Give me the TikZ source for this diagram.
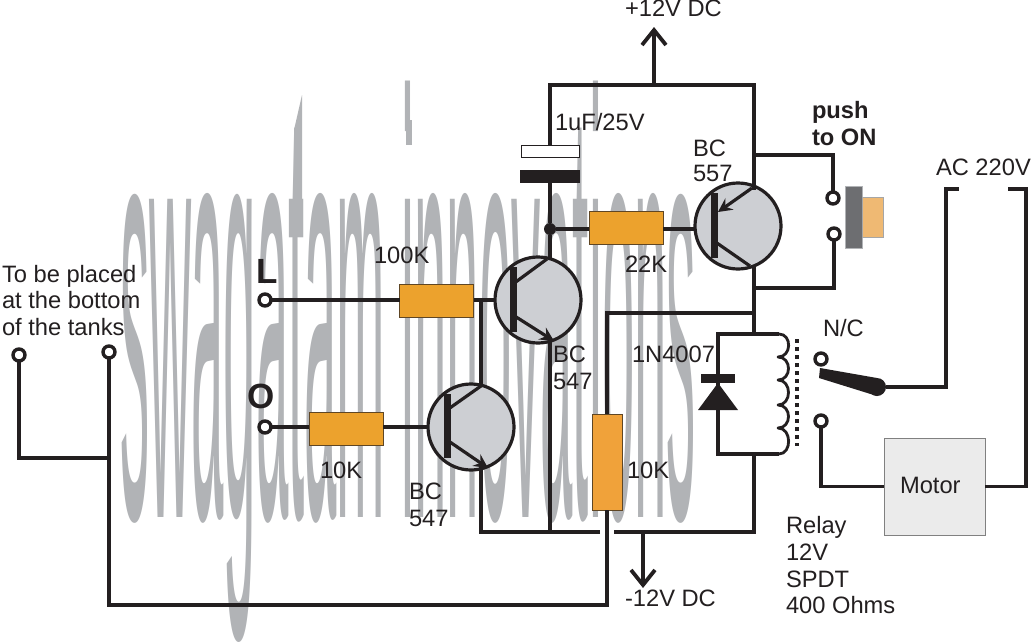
\documentclass[tikz,border=0pt]{standalone}
\usepackage{fontspec}
\setmainfont{Liberation Sans}
\usetikzlibrary{arrows.meta}
\definecolor{ink}{HTML}{231F20}
\definecolor{wmgray}{HTML}{B1B3B6}
\definecolor{resist}{HTML}{ECA22D}
\definecolor{resistb}{HTML}{F0A23A}
\definecolor{tbody}{HTML}{CDCFD3}
\definecolor{btngray}{HTML}{6D6E71}
\definecolor{btntan}{HTML}{EFB973}
\tikzset{
  wire/.style={draw=ink,line width=3.2pt,line cap=butt,line join=miter},
  label/.style={inner sep=0pt,outer sep=0pt,anchor=base west,text=ink,font=\fontsize{23.7}{23.7}\selectfont},
  boldlabel/.style={label,font=\fontsize{23.7}{23.7}\selectfont\bfseries},
  bigbold/.style={label,font=\fontsize{35}{35}\selectfont\bfseries},
  resistor/.style={draw=ink!70!resist,line width=0.8pt,fill=resist,minimum width=74pt,minimum height=33pt,inner sep=0pt,outer sep=0pt},
  terminal/.style={circle,draw=ink,fill=white,line width=3.4pt,minimum size=12pt,inner sep=0pt,outer sep=0pt},
  transistor/.style={circle,draw=ink,fill=tbody,line width=3.2pt,minimum size=86pt,inner sep=0pt,outer sep=0pt},
  basebar/.style={draw=ink,line width=7pt},
  emitter/.style={draw=ink,line width=3.2pt,-{Stealth[length=14pt,width=14pt,inset=5pt]}},
  rail/.style={draw=ink,line width=3.8pt,-{Straight Barb[length=15pt,width=24pt]}},
}
\begin{document}
\begin{tikzpicture}[x=1pt,y=-1pt]
\useasboundingbox (0,0) rectangle (1031,643);
\fill[white] (0,0) rectangle (1031,643);
% watermark
\node[inner sep=0pt,anchor=base west,text=wmgray] (wm) at (120,517)
  {\scalebox{1}[10.35]{\fontsize{58.2}{58}\selectfont swagatam innovations}};
\fill[wmgray] (294,130) -- (302,95) -- (302,200) -- (294,200) -- cycle;
\fill[wmgray] (406,120) rectangle (412,145);
% named bend points
\coordinate (tl) at (550,85);
\coordinate (tr) at (754,85);
\coordinate (up) at (654,85);
\coordinate (upt) at (654,27);
\coordinate (br) at (754,532);
\coordinate (bl) at (481,532);
\coordinate (gapl) at (600,532);
\coordinate (gapr) at (614,532);
\coordinate (dn) at (643,532);
\coordinate (dnt) at (643,588);
\coordinate (q1j) at (550,532);
\coordinate (midr) at (754,313);
\coordinate (midl) at (607,313);
\coordinate (coilt) at (754,334);
\coordinate (coilb) at (754,454);
\coordinate (rel1) at (718,334);
\coordinate (rel2) at (718,454);
\coordinate (rel3) at (779,334);
\coordinate (rel4) at (779,454);
% components
\node[draw=ink,line width=1pt,fill=white,minimum width=58pt,minimum height=12pt,inner sep=0pt,outer sep=0pt] (capa) at (550,151) {};
\node[fill=ink,minimum width=60pt,minimum height=13pt,inner sep=0pt,outer sep=0pt] (capb) at (550,176.5) {};
\node[circle,fill=ink,minimum size=12pt,inner sep=0pt,outer sep=0pt] (jn) at (550,229) {};
\node[resistor] (r22) at (626,227.5) {};
\node[resistor] (r100) at (436.5,301) {};
\node[resistor] (r10a) at (346,428.5) {};
\node[resistor,fill=resistb,minimum width=30pt,minimum height=96pt] (r10b) at (607,462) {};
\node[transistor] (q3) at (738,226) {};
\node[transistor] (q1) at (538,300) {};
\node[transistor] (q2) at (471,427) {};
% rails and wires
\draw[wire] (capa.north) |- (tl) -- (tr) -- (754,190);
\draw[rail] (up) -- (upt);
\draw[wire] (capb.south) -- (jn) -- (550,258);
\draw[wire] (jn) -- (jn -| r22.west);
\draw[wire] (jn -| r22.east) -- (jn -| q3.west);
\draw[wire] (754,265) -- (midr) -- (coilt);
\draw[wire] (midr) -- (midl) -- (r10b.north);
\draw[wire] (rel3) -- (rel1) -- (rel2) -- (rel4);
\draw[wire] (coilb) -- (br) -- (gapr);
\draw[wire] (gapl) -- (bl) -- (481,467);
\draw[wire] (550,340) -- (q1j);
\draw[rail] (dn) -- (dnt);
\draw[wire] (q1.west -| r100.east) -- (q1.west);
\draw[wire] (481,300) -- (481,386);
\draw[wire] (q2.west -| r10a.east) -- (q2.west);
% transistor internals
\draw[basebar] (714,193) -- (714,258);
\draw[wire] (714,241) -- (750,266);
\draw[emitter] (752,188) -- (718,212);
\draw[basebar] (513,267) -- (513,332);
\draw[wire] (513,284) -- (547,259);
\draw[emitter] (513,315) -- (554,341);
\draw[basebar] (447,394) -- (447,458);
\draw[wire] (447,410) -- (481,386);
\draw[emitter] (447,440) -- (488,468);
% diode
\node[fill=ink,minimum width=34pt,minimum height=9pt,inner sep=0pt,outer sep=0pt] (dbar) at (718,378.5) {};
\fill[ink] (718,383) -- (738,410) -- (698,410) -- cycle;
% coil
\draw[wire,line width=2.8pt,line join=round]
  (rel3) .. controls (792,334) and (792,357) .. (778,357)
  .. controls (792,357) and (792,380) .. (778,380)
  .. controls (792,380) and (792,405) .. (778,405)
  .. controls (792,405) and (792,428) .. (778,428)
  .. controls (792,428) and (792,454) .. (rel4);
\draw[draw=ink,line width=4pt,dash pattern=on 4pt off 4pt] (797,339) -- (797,446);
% terminals
\node[terminal] (tL) at (265,300) {};
\node[terminal] (tO) at (265,427) {};
\node[terminal] (ta) at (19,355) {};
\node[terminal] (tb) at (109,352) {};
\node[terminal] (sw1) at (833,198) {};
\node[terminal] (sw2) at (834,234) {};
\node[terminal] (nc) at (821,359) {};
\node[terminal] (no) at (821,421) {};
\draw[wire] (tL.east) -- (tL.east -| r100.west);
\draw[wire] (tO.east) -- (tO.east -| r10a.west);
\draw[wire] (ta.south) |- (109,458);
\draw[wire] (tb.south) -- (109,605) -- (607,605) -- (r10b.south);
\draw[wire] (754,155) -| (sw1.north);
\draw[wire] (sw2.south) |- (754,288);
% push button
\node[draw=wmgray,line width=0.5pt,fill=btngray,minimum width=17pt,minimum height=62pt,inner sep=0pt,outer sep=0pt] (btn) at (853.5,217.5) {};
\node[draw=black!35,line width=0.7pt,fill=btntan,minimum width=21pt,minimum height=40pt,inner sep=0pt,outer sep=0pt] (cap) at (872.5,217.5) {};
% relay contact and motor
\node[circle,fill=ink,minimum size=18pt,inner sep=0pt,outer sep=0pt] (pivot) at (877,387) {};
\fill[ink] (820,368) -- (877,378) -- (877,396) -- (819,378) -- cycle;
\node[draw=black!50,line width=1pt,fill=black!8,minimum width=101pt,minimum height=97pt,inner sep=0pt,outer sep=0pt] (motor) at (934.5,486.5) {};
\draw[wire] (pivot.east) -- (946,387) -- (946,189) -- (959,189);
\draw[wire] (1008,189) -- (1026,189) |- (motor.east);
\draw[wire] (no.south) |- (motor.west);
% labels
\node[label] (l1) at (625,16) {+12V DC};
\node[label] (l2) at (555,130) {1uF/25V};
\node[label] (l3) at (693,156) {BC};
\node[label] (l4) at (693,181) {557};
\node[label] (l5) at (625,272) {22K};
\node[boldlabel] (l6) at (812,118) {push};
\node[boldlabel] (l7) at (812,145) {to ON};
\node[label] (l8) at (936,175) {AC 220V};
\node[label] (l9) at (823,336) {N/C};
\node[label] (l10) at (900,493) {Motor};
\node[label] (l11) at (786,533) {Relay};
\node[label] (l12) at (786,560) {12V};
\node[label] (l13) at (786,587) {SPDT};
\node[label] (l14) at (786,613) {400 Ohms};
\node[label] (l15) at (632,362) {1N4007};
\node[label] (l16) at (627,478) {10K};
\node[label] (l17) at (553,362) {BC};
\node[label] (l18) at (553,389) {547};
\node[label] (l19) at (409,499) {BC};
\node[label] (l20) at (409,526) {547};
\node[label] (l21) at (625,606) {-12V DC};
\node[label] (l22) at (374,263) {100K};
\node[label] (l23) at (320,478) {10K};
\node[label] (l24) at (2,282) {To be placed};
\node[label] (l25) at (2,308) {at the bottom};
\node[label] (l26) at (2,335) {of the tanks};
\node[bigbold] (l27) at (256,283) {L};
\node[bigbold] (l28) at (247,408) {O};
\end{tikzpicture}
\end{document}
